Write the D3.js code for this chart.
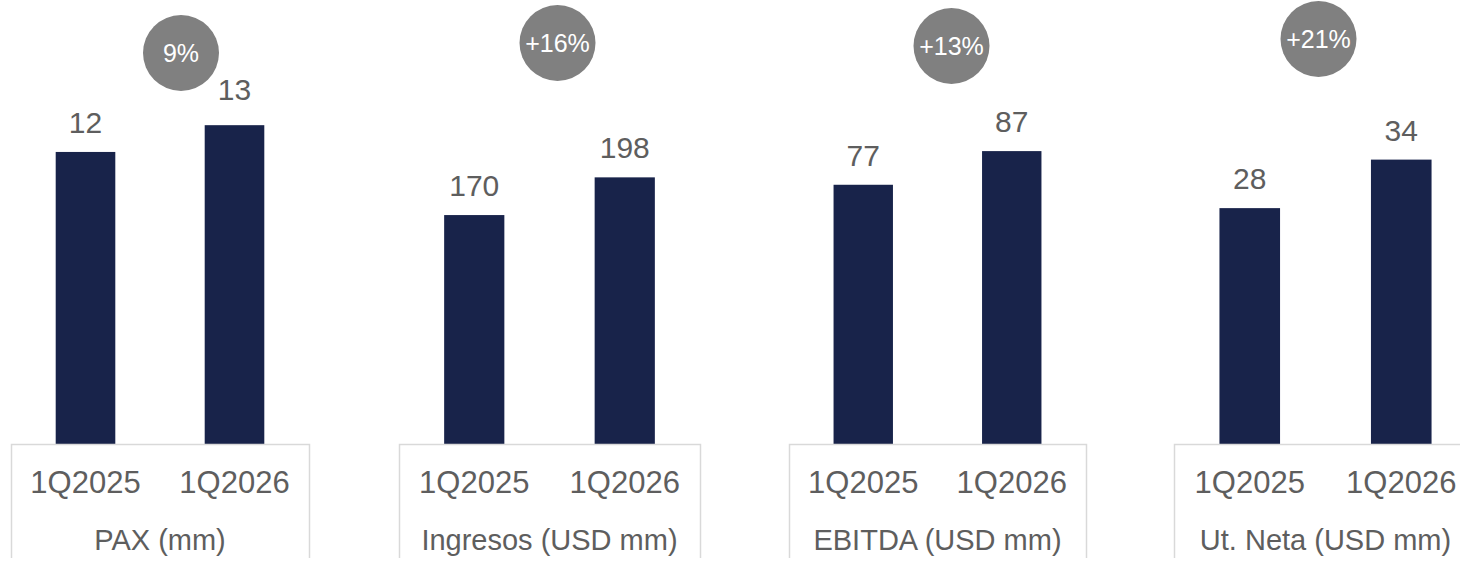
<!DOCTYPE html>
<html>
<head>
<meta charset="utf-8">
<script src="https://cdn.jsdelivr.net/npm/d3@7"></script>
<style>
  body { margin: 0; background: #fff; }
  svg text { font-family: "Liberation Sans", Arial, sans-serif; }
</style>
</head>
<body>
<div id="chart"></div>
<script>
// data
var periods = ["1Q2025", "1Q2026"];
var titles = ["PAX (mm)", "Ingresos (USD mm)", "EBITDA (USD mm)", "Ut. Neta (USD mm)"];
var pax = [12.0, 13.1];
var ingresos = [170, 198];
var ebitda = [77, 87];
var utNeta = [28.2, 34.0];
var growth = ["9%", "+16%", "+13%", "+21%"];
var axisMax = [16.6, 300, 120, 48.3];

// layout
var width = 1460, height = 563;
var baseline = 444, plotTop = 40;
var panelLeft = [11, 399, 789, 1174];
var panelWidth = [298, 301, 297, 303];
var bubbleDx = [21, 8, 14, -7];   // offset from panel centre
var bubbleY = [53, 43, 46, 39];
var labelNudge = [[0, -6], [0, 0], [0, 0], [0, 0]];

var barColor = "#18234a",
    textColor = "#5e5e5e",
    bubbleColor = "#808080",
    boxColor = "#d9d9d9";

var series = [pax, ingresos, ebitda, utNeta];

var svg = d3.select("#chart")
  .append("svg")
  .attr("width", width)
  .attr("height", height);

series.forEach(function(vals, i) {
  var w = panelWidth[i];
  var g = svg.append("g")
    .attr("transform", "translate(" + panelLeft[i] + ",0)");

  var x = d3.scaleBand().domain(periods).range([0, w])
    .paddingInner(0.6).paddingOuter(0.3);
  var y = d3.scaleLinear().domain([0, axisMax[i]]).range([baseline, plotTop]);

  var data = periods.map(function(p, j) { return {period: p, value: vals[j], j: j}; });

  //bars
  g.selectAll(".bar")
    .data(data)
    .enter().append("rect")
    .attr("class", "bar")
    .attr("x", function(d) { return x(d.period); })
    .attr("y", function(d) { return y(d.value); })
    .attr("width", x.bandwidth())
    .attr("height", function(d) { return baseline - y(d.value); })
    .attr("fill", barColor);

  //value labels
  g.selectAll(".val")
    .data(data)
    .enter().append("text")
    .attr("class", "val")
    .attr("x", function(d) { return x(d.period) + x.bandwidth() / 2; })
    .attr("y", function(d) { return y(d.value) - 19 + labelNudge[i][d.j]; })
    .attr("text-anchor", "middle")
    .style("font-size", "30px")
    .style("fill", textColor)
    .text(function(d) { return d3.format(".0f")(d.value); });

  //axis, the domain path doubles as the box
  var axis = g.append("g")
    .attr("transform", "translate(0," + baseline + ")")
    .call(d3.axisBottom(x).tickSizeInner(0).tickSizeOuter(height - baseline - 5).tickPadding(27));
  axis.select(".domain").attr("stroke", boxColor).attr("stroke-width", 1.5);
  axis.selectAll(".tick text")
    .style("font-size", "31px")
    .style("font-family", "Liberation Sans, Arial, sans-serif")
    .attr("fill", textColor);

  //category title
  g.append("text")
    .attr("x", w / 2)
    .attr("y", 549.5)
    .attr("text-anchor", "middle")
    .style("font-size", "29px")
    .style("fill", textColor)
    .text(titles[i]);

  //growth bubble
  g.append("circle")
    .attr("cx", w / 2 + bubbleDx[i])
    .attr("cy", bubbleY[i])
    .attr("r", 38)
    .attr("fill", bubbleColor);
  g.append("text")
    .attr("x", w / 2 + bubbleDx[i])
    .attr("y", bubbleY[i] + 9)
    .attr("text-anchor", "middle")
    .style("font-size", "25px")
    .style("fill", "#fff")
    .text(growth[i]);
});
</script>
</body>
</html>
